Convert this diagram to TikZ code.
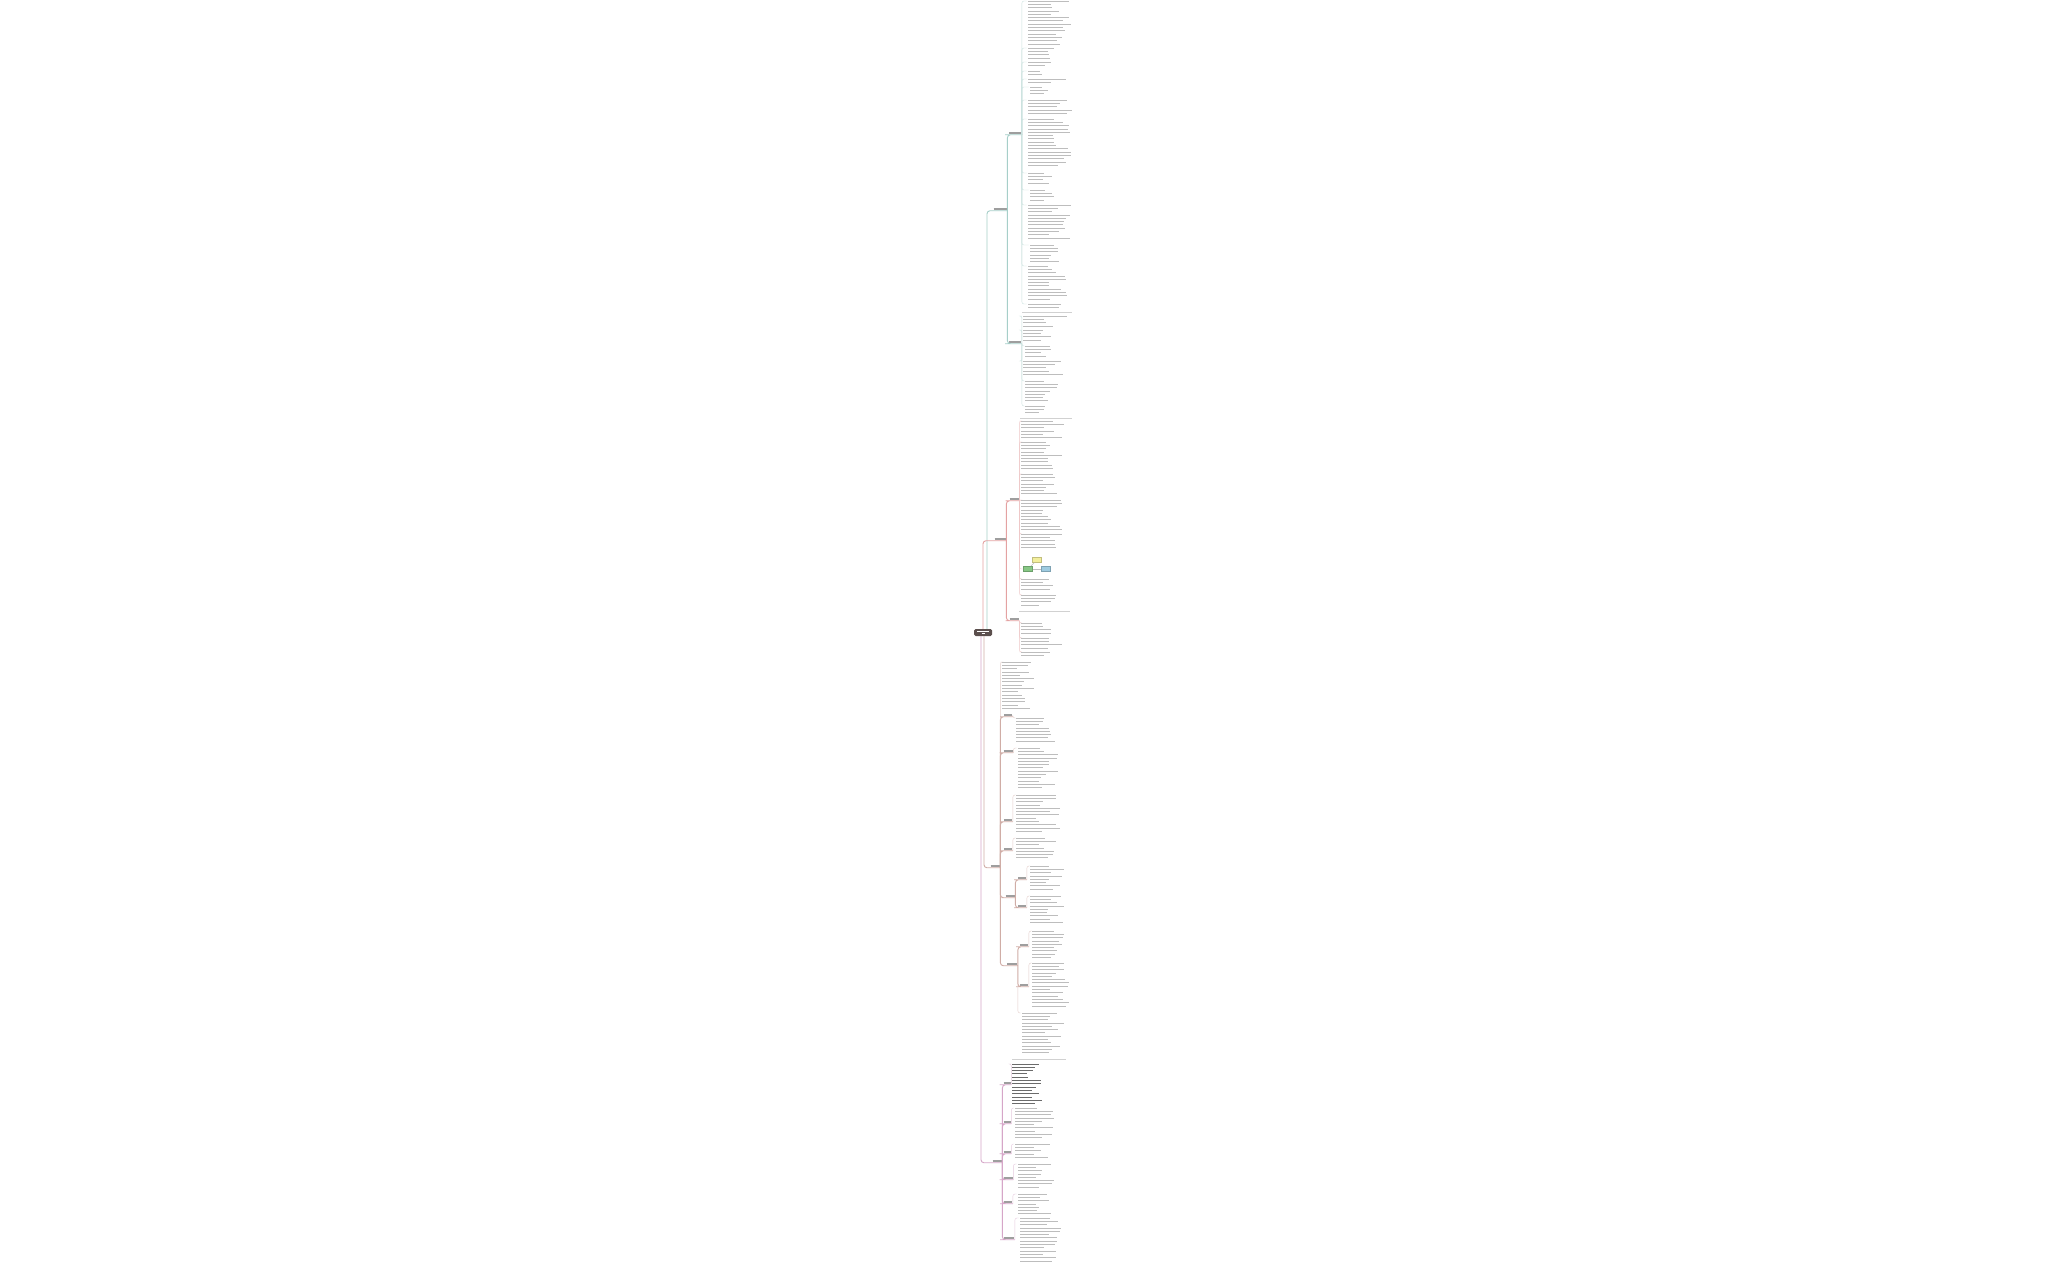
\documentclass[tikz,border=0pt]{standalone}
\usetikzlibrary{calc}
\definecolor{cteal}{HTML}{A6CFC9}
\definecolor{cred}{HTML}{E4A2A2}
\definecolor{ctan}{HTML}{D0ADA6}
\definecolor{cmauve}{HTML}{D6A6C8}
\definecolor{ccenter}{HTML}{5B4F4D}
\definecolor{cyel}{HTML}{F2EE9C}
\definecolor{cgreen}{HTML}{86C784}
\definecolor{cblue}{HTML}{9ECBE0}
\tikzset{
  x=1pt, y=-1pt,
  txt/.style={draw=black!26, line width=0.8pt},
  boldtxt/.style={draw=black!58, line width=1pt},
  lab/.style={inner sep=0.9pt, outer sep=0pt},
  cnode/.style={fill=ccenter, rounded corners=1.5pt, minimum width=18pt, minimum height=7pt, inner sep=0.5pt, align=center, font=\fontsize{2}{2.6}\selectfont},
  c1/.style={draw=cteal, line width=0.9pt, rounded corners=3pt},
  c2/.style={draw=cred, line width=0.9pt, rounded corners=3pt},
  c3/.style={draw=ctan, line width=0.9pt, rounded corners=3pt},
  c4/.style={draw=cmauve, line width=0.9pt, rounded corners=3pt},
  l1/.style={draw=cteal!60, line width=0.4pt, rounded corners=2pt},
  l2/.style={draw=cred!60, line width=0.4pt, rounded corners=2pt},
  l3/.style={draw=ctan!60, line width=0.4pt, rounded corners=2pt},
  l4/.style={draw=cmauve!60, line width=0.4pt, rounded corners=2pt},
  sep/.style={draw=black!18, line width=0.5pt},
  mini/.style={minimum width=9pt, minimum height=5pt, inner sep=0pt, draw=#1!80!black, fill=#1, line width=0.3pt}
}
\newcommand\tbarx[1]{\textcolor{black!38}{\rule{#1pt}{1.7pt}}}
\newcommand\mlab[4]{\node[lab] (#1) at (#2,#3) {\tbarx{#4}};}
% text block: x, y0, y1, max width, style
\newcommand\tblk[5]{%
  \pgfmathsetmacro\ysec{#2+3.3}%
  \foreach \yy in {#2,\ysec,...,#3}{%
    \pgfmathsetmacro\lenx{#4*(0.45+0.55*rnd)}%
    \draw[#5] (#1,\yy) -- ++(\lenx,0);
  }}
% leaf: name, parent, style, x, y0, y1, width
\newcommand\leaf[7]{%
  \coordinate (#1) at ({#4-1.5},#5);
  \draw[#3] (#2.south east) |- (#1);
  \tblk{#4}{#5}{#6}{#7}{txt}}
\begin{document}
\begin{tikzpicture}
\pgfmathsetseed{7}
\fill[white] (0,0) rectangle (2048,1266);
\useasboundingbox (0,0) rectangle (2048,1266);

% central node
\node[cnode] (c) at (983,632.5) {\color{white}\rule{12pt}{1.1pt}\\\color{white}\rule{3pt}{1.1pt}};

% ---------------- branch 1 (teal)
\mlab{b1}{1000}{209}{13}
\mlab{b1a}{1015}{133}{12}
\mlab{b1b}{1015}{342}{12}
\draw[c1] ($(c.north)+(4,0)$) |- (b1.south west) -- (b1.south east);
\draw[c1] (b1.south east) |- (b1a.south west) -- (b1a.south east);
\draw[c1] (b1.south east) |- (b1b.south west) -- (b1b.south east);
\leaf{la1}{b1a}{l1}{1028}{1}{44}{44}
\leaf{la2}{b1a}{l1}{1028}{48}{58}{40}
\leaf{la3}{b1a}{l1}{1028}{62}{67}{30}
\leaf{la4}{b1a}{l1}{1028}{71}{75}{25}
\leaf{la5}{b1a}{l1}{1028}{79}{83}{42}
\leaf{la6}{b1a}{l1}{1030}{87}{96}{20}
\leaf{la7}{b1a}{l1}{1028}{100}{115}{44}
\leaf{la8}{b1a}{l1}{1028}{119}{167}{44}
\leaf{la9}{b1a}{l1}{1028}{173}{186}{30}
\leaf{la10}{b1a}{l1}{1030}{190}{200}{25}
\leaf{la11}{b1a}{l1}{1028}{205}{240}{44}
\leaf{la12}{b1a}{l1}{1030}{245}{262}{30}
\leaf{la13}{b1a}{l1}{1028}{266}{300}{44}
\leaf{la14}{b1a}{l1}{1028}{304}{309}{35}
\draw[sep] (1022,312) -- (1072,312);
\leaf{lb1}{b1b}{l1}{1023}{316}{326}{44}
\leaf{lb2}{b1b}{l1}{1023}{330}{340}{35}
\leaf{lb3}{b1b}{l1}{1025}{346}{356}{30}
\leaf{lb4}{b1b}{l1}{1023}{361}{376}{44}
\leaf{lb5}{b1b}{l1}{1025}{381}{401}{40}
\leaf{lb6}{b1b}{l1}{1025}{406}{413}{30}
\draw[sep] (1020,418) -- (1072,418);

% ---------------- branch 2 (red)
\mlab{b2}{1000}{539}{11}
\mlab{b2a}{1014}{499}{9}
\mlab{b2b}{1014}{619}{9}
\draw[c2] (c.north) |- (b2.south west) -- (b2.south east);
\draw[c2] (b2.south east) |- (b2a.south west) -- (b2a.south east);
\draw[c2] (b2.south east) |- (b2b.south west) -- (b2b.south east);
\leaf{lc1}{b2a}{l2}{1021}{421}{438}{44}
\leaf{lc2}{b2a}{l2}{1021}{442}{470}{44}
\leaf{lc3}{b2a}{l2}{1021}{474}{496}{44}
\leaf{lc4}{b2a}{l2}{1021}{500}{530}{44}
\leaf{lc5}{b2a}{l2}{1021}{534}{550}{44}
\node[mini=cyel] (dy) at (1037,560) {};
\node[mini=cgreen] (dg) at (1028,569) {};
\node[mini=cblue] (db) at (1046,569) {};
\draw[draw=black!25, line width=0.4pt] (dg) -- (dy);
\draw[draw=black!25, line width=0.4pt] (dg) -- (db);
\draw[l2] (b2a.south east) |- (dg.west);
\leaf{lc6}{b2a}{l2}{1021}{579}{591}{44}
\leaf{lc7}{b2a}{l2}{1021}{595}{607}{40}
\draw[sep] (1019,611) -- (1070,611);
\leaf{ld1}{b2b}{l2}{1021}{623}{634}{44}
\leaf{ld2}{b2b}{l2}{1021}{638}{648}{44}
\leaf{ld3}{b2b}{l2}{1021}{652}{658}{35}

% ---------------- branch 3 (tan)
\mlab{b3}{995}{866}{9}
\draw[c3] ($(c.south)+(1,0)$) |- (b3.south west) -- (b3.south east);
\leaf{lp}{b3}{l3}{1002}{662}{711}{33}
\mlab{b3a}{1008}{715}{8}
\mlab{b3b}{1008}{751}{9}
\mlab{b3c}{1008}{820}{8}
\mlab{b3d}{1008}{849}{8}
\mlab{b3e}{1010}{896}{9}
\mlab{b3f}{1012}{964}{10}
\foreach \n in {b3a,b3b,b3c,b3d,b3e,b3f}{
  \draw[c3] (b3.south east) |- (\n.south west) -- (\n.south east);
}
\leaf{le1}{b3a}{l3}{1016}{718}{744}{40}
\leaf{le2}{b3b}{l3}{1018}{748}{790}{44}
\leaf{le3}{b3c}{l3}{1016}{795}{832}{44}
\leaf{le4}{b3d}{l3}{1016}{838}{860}{40}
\mlab{b3e1}{1022}{878}{8}
\mlab{b3e2}{1022}{906}{8}
\draw[c3] (b3e.south east) |- (b3e1.south west) -- (b3e1.south east);
\draw[c3] (b3e.south east) |- (b3e2.south west) -- (b3e2.south east);
\leaf{lf1}{b3e1}{l3}{1030}{866}{890}{35}
\leaf{lf2}{b3e2}{l3}{1030}{896}{925}{35}
\mlab{b3f1}{1024}{945}{8}
\mlab{b3f2}{1024}{985}{8}
\draw[c3] (b3f.south east) |- (b3f1.south west) -- (b3f1.south east);
\draw[c3] (b3f.south east) |- (b3f2.south west) -- (b3f2.south east);
\leaf{lg1}{b3f1}{l3}{1032}{931}{958}{38}
\leaf{lg2}{b3f2}{l3}{1032}{963}{1008}{38}
\leaf{lg3}{b3f}{l3}{1022}{1013}{1055}{44}
\draw[sep] (1012,1059) -- (1066,1059);

% ---------------- branch 4 (mauve)
\mlab{b4}{997}{1161}{9}
\draw[c4] ($(c.south)+(-2,0)$) |- (b4.south west) -- (b4.south east);
\mlab{b4a}{1007}{1083}{7}
\mlab{b4b}{1007}{1122}{7}
\mlab{b4c}{1007}{1152}{7}
\mlab{b4d}{1008}{1178}{9}
\mlab{b4e}{1008}{1202}{8}
\mlab{b4f}{1009}{1238}{10}
\foreach \n in {b4a,b4b,b4c,b4d,b4e,b4f}{
  \draw[c4] (b4.south east) |- (\n.south west) -- (\n.south east);
}
\coordinate (lh0) at (1011,1064);
\draw[l4] (b4a.south east) |- (lh0);
\tblk{1012}{1064}{1104}{32}{boldtxt}
\leaf{lh2}{b4b}{l4}{1015}{1108}{1140}{40}
\leaf{lh3}{b4c}{l4}{1015}{1144}{1160}{35}
\leaf{lh4}{b4d}{l4}{1018}{1164}{1190}{38}
\leaf{lh5}{b4e}{l4}{1018}{1194}{1214}{35}
\leaf{lh6}{b4f}{l4}{1020}{1218}{1264}{42}
\end{tikzpicture}
\end{document}
